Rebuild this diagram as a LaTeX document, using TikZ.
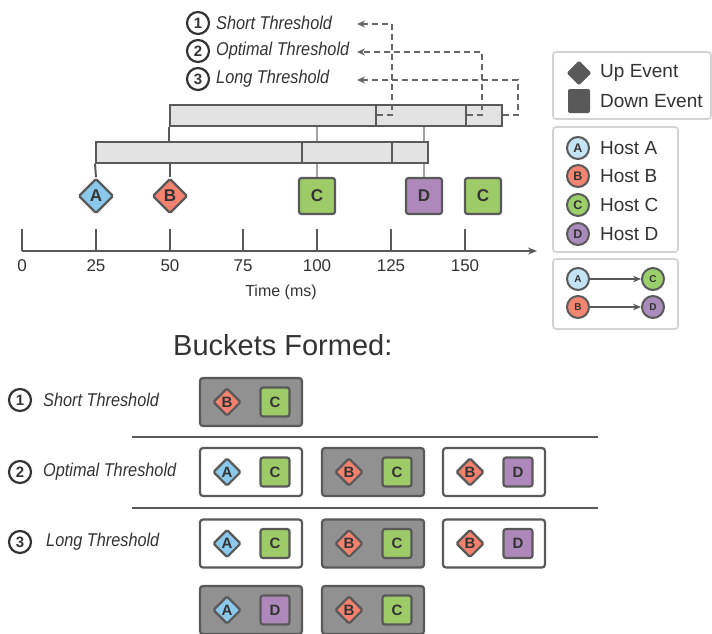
\documentclass[tikz,border=0pt]{standalone}
\usepackage{fontspec}
\setmainfont{Liberation Sans}
\newfontfamily\thrfont[FakeStretch=0.88]{Liberation Sans}
\usetikzlibrary{shapes.geometric,arrows.meta}
\newcommand\fsz[1]{\fontsize{#1pt}{#1pt}\selectfont}
\definecolor{ink}{HTML}{333333}
\definecolor{edge}{HTML}{595959}
\definecolor{soft}{HTML}{A3A3A3}
\definecolor{barfill}{HTML}{E3E3E3}
\definecolor{frame}{HTML}{D2D2D2}
\definecolor{bkgray}{HTML}{919191}
\definecolor{dashc}{HTML}{666666}
\definecolor{evA}{HTML}{8CC8EA}
\definecolor{evB}{HTML}{F3816F}
\definecolor{evC}{HTML}{9CCB67}
\definecolor{evD}{HTML}{AE88BA}
\definecolor{hostA}{HTML}{C4E4F4}
\definecolor{hostB}{HTML}{F28571}
\definecolor{hostC}{HTML}{9BCF6B}
\definecolor{hostD}{HTML}{A98CBB}
\tikzset{
  every node/.style={text=ink},
  numc/.style={circle, draw=ink, line width=2.2pt, minimum size=22pt, inner sep=0pt, font=\fsz{15}\bfseries},
  thrtext/.style={inner sep=0pt, font=\thrfont\fsz{18.5}\itshape},
  barseg/.style={rectangle, draw=edge, fill=barfill, line width=2pt, minimum height=21pt, inner sep=0pt},
  upev/.style={diamond, draw=edge, line width=2.2pt, minimum size=35pt, inner sep=0pt, rounded corners=1.5pt, font=\fsz{17}\bfseries},
  downev/.style={rectangle, draw=edge, line width=2.2pt, minimum size=36pt, inner sep=0pt, rounded corners=2.5pt, font=\fsz{17}\bfseries},
  smallup/.style={upev, minimum size=28pt, font=\fsz{15}\bfseries},
  smalldown/.style={downev, minimum size=29pt, font=\fsz{15}\bfseries},
  evline/.style={draw=edge, line width=2pt},
  softline/.style={draw=soft, line width=2pt},
  axisln/.style={draw=edge, line width=2pt},
  ticklab/.style={inner sep=0pt, font=\fsz{17}},
  thrarrow/.style={draw=dashc, line width=2.2pt, dash pattern=on 6pt off 4pt, -{Stealth[length=8pt,width=7pt]}},
  legbox/.style={rectangle, draw=frame, line width=1.6pt, rounded corners=3pt, fill=white, inner sep=0pt},
  legtext/.style={anchor=west, inner sep=0pt, font=\fsz{19}},
  hostc/.style={circle, draw=edge, line width=2pt, minimum size=22pt, inner sep=0pt, font=\fsz{12.5}\bfseries},
  relc/.style={hostc, font=\fsz{10}\bfseries},
  relarrow/.style={draw=edge, line width=1.8pt, -{Stealth[length=8pt,width=6.5pt]}},
  bucket/.style={rectangle, draw=edge, line width=2.2pt, minimum width=102pt, minimum height=48pt, rounded corners=3pt, inner sep=0pt},
  sepline/.style={draw=edge, line width=2.2pt}
}
\begin{document}
\begin{tikzpicture}[x=1pt,y=-1pt]
\useasboundingbox (0,0) rectangle (712,633);
\clip (0,0) rectangle (712,633);

% threshold key at the top
\foreach \i/\y/\lab in {1/23/Short Threshold,2/51/Optimal Threshold,3/79/Long Threshold}{
  \node[numc] (n\i) at (198,\y) {\i};
  \node[thrtext, anchor=west] (t\i) at (216,\y) {\lab};
}

% window bars: upper (shifted) and lower
\node[barseg, minimum width=206pt] (u1) at (273,115) {};
\node[barseg, minimum width=90pt]  (u2) at (421,115) {};
\node[barseg, minimum width=36pt]  (u3) at (484,115) {};
\node[barseg, minimum width=206pt] (l1) at (199,152) {};
\node[barseg, minimum width=90pt]  (l2) at (347,152) {};
\node[barseg, minimum width=36pt]  (l3) at (410,152) {};

% events on the time line
\node[upev, fill=evA]   (eA)  at (96,196)  {A};
\node[upev, fill=evB]   (eB)  at (170,196) {B};
\node[downev, fill=evC] (eC)  at (317,196) {C};
\node[downev, fill=evD] (eD)  at (424,196) {D};
\node[downev, fill=evC] (eC2) at (483,196) {C};

% links between bars and events
\draw[evline] (l1.south west) -- (eA.north);
\draw[evline] (u1.south west) -- (u1.south west |- l1.north);
\draw[evline] (eB.north |- l1.south) -- (eB.north);
\draw[softline] (eC.north |- u1.south) -- (eC.north |- l1.north);
\draw[softline] (eC.north |- l1.south) -- (eC.north);
\draw[softline] (eD.north |- u2.south) -- (eD.north |- l3.north);
\draw[softline] (eD.north |- l3.south) -- (eD.north);

% dashed pointers from the window ends to the threshold names
\coordinate (p1) at (357,24);
\coordinate (p2) at (357,52);
\coordinate (p3) at (357,80);
\draw[thrarrow] (u1.east) -- ++(15,0) |- (p1);
\draw[thrarrow] (u2.east) -- ++(15,0) |- (p2);
\draw[thrarrow] (u3.east) -- ++(15,0) |- (p3);

% time axis
\coordinate (ax0) at (22,251);
\coordinate (ax1) at (537,251);
\draw[axisln, -{Stealth[length=9pt,width=7pt]}] (ax0) -- (ax1);
\foreach \t/\x in {0/22,25/96,50/170,75/243,100/317,125/391,150/465}{
  \draw[axisln] (\x,229) -- (\x,251);
  \node[ticklab] (tk\t) at (\x,266) {\t};
}
\node[inner sep=0pt, font=\fsz{16}] (tlab) at (281,292) {Time (ms)};

% legend: event kinds
\node[legbox, minimum width=158pt, minimum height=67pt] (lg1) at (632,85.5) {};
\node[diamond, fill=edge, minimum size=25pt, inner sep=0pt, rounded corners=1.5pt] (upicon) at (579,73) {};
\node[rectangle, fill=edge, minimum width=22pt, minimum height=24pt, inner sep=0pt, rounded corners=2pt] (dnicon) at (579,101) {};
\node[legtext] (uptx) at (600,73) {Up Event};
\node[legtext] (dntx) at (600,101) {Down Event};

% legend: hosts
\node[legbox, minimum width=125pt, minimum height=125pt] (lg2) at (615.5,189.5) {};
\foreach \h/\y in {A/148,B/176,C/205,D/234}{
  \node[hostc, fill=host\h] (hc\h) at (578,\y) {\h};
  \node[legtext] (ht\h) at (600,\y) {Host \h};
}

% legend: host pairs
\node[legbox, minimum width=125pt, minimum height=70pt] (lg3) at (615.5,294) {};
\node[relc, fill=hostA] (rA) at (578,279) {A};
\node[relc, fill=hostC] (rC) at (653,279) {C};
\node[relc, fill=hostB] (rB) at (578,307) {B};
\node[relc, fill=hostD] (rD) at (653,307) {D};
\draw[relarrow] (rA) -- (rC);
\draw[relarrow] (rB) -- (rD);

% buckets formed
\node[anchor=base west, inner sep=0pt, font=\fsz{29}] (btitle) at (173,355) {Buckets Formed:};
\node[numc] (m1) at (20,400) {1};
\node[thrtext, anchor=west] (s1) at (43,400) {Short Threshold};
\node[numc] (m2) at (20,472) {2};
\node[thrtext, anchor=west] (s2) at (43,472) {Optimal Threshold};
\node[numc] (m3) at (20,542) {3};
\node[thrtext, anchor=west] (s3) at (46,542) {Long Threshold};

\coordinate (sa0) at (132,437); \coordinate (sa1) at (598,437);
\coordinate (sb0) at (132,508); \coordinate (sb1) at (598,508);
\draw[sepline] (sa0) -- (sa1);
\draw[sepline] (sb0) -- (sb1);

\foreach \nm/\x/\y/\fl/\p/\q in {
  a/251/402/bkgray/B/C,
  b/251/472/white/A/C, c/373/472/bkgray/B/C, d/494/472/white/B/D,
  e/251/543.5/white/A/C, f/373/543.5/bkgray/B/C, g/494/543.5/white/B/D,
  h/251/610/bkgray/A/D, i/373/610/bkgray/B/C}{
  \node[bucket, fill=\fl] (bk\nm) at (\x,\y) {};
  \node[smallup, fill=ev\p] (bk\nm up) at ([xshift=-24pt]bk\nm.center) {\p};
  \node[smalldown, fill=ev\q] (bk\nm dn) at ([xshift=24pt]bk\nm.center) {\q};
}
\end{tikzpicture}
\end{document}
